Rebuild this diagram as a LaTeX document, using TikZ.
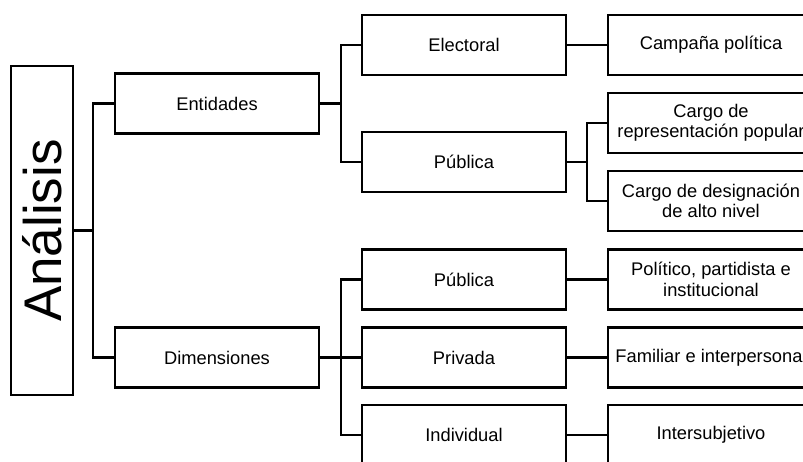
\documentclass[tikz,border=0pt]{standalone}
\usepackage{fontspec}
\setmainfont{Liberation Sans}
\usepackage{tikz}
\usetikzlibrary{positioning,calc}

\begin{document}
\begin{tikzpicture}[
					x=1pt, y=-1pt,
					caja/.style={
						draw=black, line width=2.4pt,
						minimum width=203.6pt, minimum height=60pt,
						inner sep=2pt, align=center,
						font=\fontsize{18.3}{20.5}\selectfont
					},
					hoja/.style={
						caja, minimum width=205.6pt
					},
					raiz/.style={
						draw=black, line width=2.4pt,
						minimum width=61.6pt, minimum height=328.6pt,
						inner sep=0pt
					},
					raiz_txt/.style={
						rotate=90, inner sep=0pt,
						font=\fontsize{53}{60}\selectfont
					},
					linea/.style={
						draw=black, line width=2.4pt
					}
					]
					
					\useasboundingbox (0,0) rectangle (803,461);
					\clip (0,0) rectangle (803,461);
					
					% --- RAIZ ---
					\node[raiz] (ana) at (42,230.5) {};
					\node[raiz_txt] (anatxt) at (ana.center) {Análisis};
					
					% --- NIVEL 1 ---
					\node[caja] (ent) at (217,103.5) {Entidades};
					\node[caja] (dim) at (217,357.5) {Dimensiones};
					
					% --- NIVEL 2 ---
					\node[caja] (elec) at (464,45) {Electoral};
					\node[caja] (pub1) at (464,162) {Pública};
					\node[caja] (pub2) at (464,279.5) {Pública};
					\node[caja] (priv) at (464,357.5) {Privada};
					\node[caja] (indiv) at (464,435) {Individual};
					
					% --- NIVEL 3 ---
					\node[hoja] (camp) at (711,45) {Campaña política};
					\node[hoja] (rep) at (711,123) {Cargo de\\representación popular};
					\node[hoja] (desig) at (711,201) {Cargo de designación\\de alto nivel};
					\node[hoja] (polit) at (711,279.5) {Político, partidista e\\institucional};
					\node[hoja] (fam) at (711,357.5) {Familiar e interpersonal};
					\node[hoja] (inter) at (711,435) {Intersubjetivo};
					
					% --- CONECTORES ---
					\coordinate (j0) at (93,230.5);
					\coordinate (j1) at (341,103.5);
					\coordinate (j2) at (587,162);
					\coordinate (j3) at (341,357.5);
					
					\draw[linea] (ana.east) -- (j0) |- (ent.west);
					\draw[linea] (j0) |- (dim.west);
					
					\draw[linea] (ent.east) -- (j1) |- (elec.west);
					\draw[linea] (j1) |- (pub1.west);
					\draw[linea] (elec.east) -- (camp.west);
					\draw[linea] (pub1.east) -- (j2) |- (rep.west);
					\draw[linea] (j2) |- (desig.west);
					
					\draw[linea] (dim.east) -- (j3) |- (pub2.west);
					\draw[linea] (j3) -- (priv.west);
					\draw[linea] (j3) |- (indiv.west);
					\draw[linea] (pub2.east) -- (polit.west);
					\draw[linea] (priv.east) -- (fam.west);
					\draw[linea] (indiv.east) -- (inter.west);
					
				\end{tikzpicture}
\end{document}
